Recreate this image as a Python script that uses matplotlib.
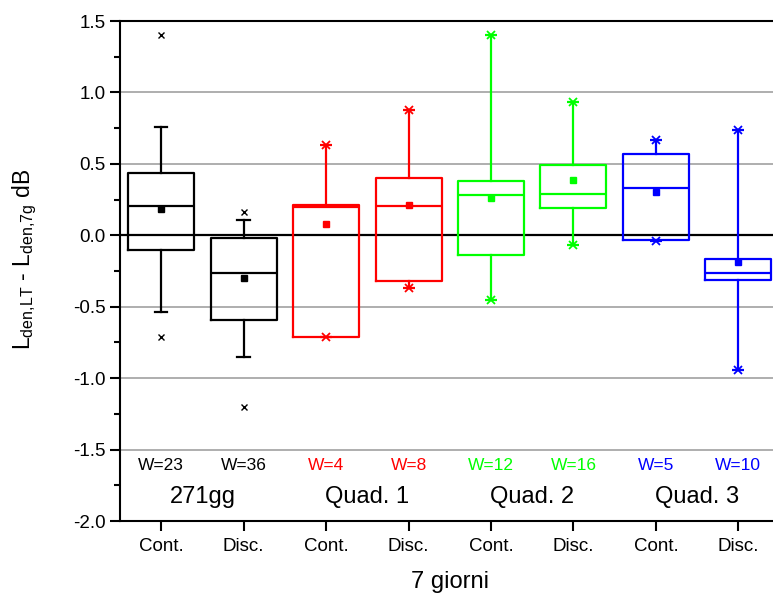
import numpy as np
import matplotlib
matplotlib.use('Agg')
import matplotlib.pyplot as plt
from matplotlib.ticker import MultipleLocator

plt.rcParams['font.family'] = ['Liberation Sans', 'DejaVu Sans']
plt.rcParams['mathtext.fontset'] = 'custom'
plt.rcParams['mathtext.rm'] = 'Liberation Sans'
plt.rcParams['mathtext.it'] = 'Liberation Sans'

# box statistics
tick_labels = ['Cont.', 'Disc.', 'Cont.', 'Disc.', 'Cont.', 'Disc.', 'Cont.', 'Disc.']
groups = ['271gg', 'Quad. 1', 'Quad. 2', 'Quad. 3']
w_labels = ['W=23', 'W=36', 'W=4', 'W=8', 'W=12', 'W=16', 'W=5', 'W=10']
q1 = [-0.10, -0.59, -0.71, -0.32, -0.14, 0.19, -0.03, -0.31]
med = [0.205, -0.265, 0.20, 0.205, 0.28, 0.29, 0.33, -0.265]
q3 = [0.435, -0.02, 0.21, 0.40, 0.38, 0.49, 0.57, -0.165]
whislo = [-0.54, -0.85, -0.71, -0.37, -0.45, -0.07, -0.04, -0.94]
whishi = [0.76, 0.11, 0.63, 0.88, 1.40, 0.93, 0.67, 0.74]
means = [0.185, -0.30, 0.08, 0.21, 0.26, 0.39, 0.30, -0.19]
# 1%/99% markers of the black boxes
fliers = [[1.40, -0.71], [0.16, -1.20], [], [], [], [], [], []]
colors = ['black', 'black', '#ff0000', '#ff0000', '#00ff00', '#00ff00', '#0000ff', '#0000ff']

fig = plt.figure(figsize=(7.73, 5.96), dpi=100)
ax = fig.add_axes([120 / 773, 75 / 596, 659.6 / 773, 500 / 596])

pos = np.arange(1, 9)
for y in [-1.5, -1.0, -0.5, 0.5, 1.0]:
    ax.axhline(y, color='#999999', lw=1.1, zorder=0)
ax.axhline(0, color='black', lw=1.6, zorder=1)

for i in range(8):
    st = dict(med=med[i], q1=q1[i], q3=q3[i], whislo=whislo[i], whishi=whishi[i],
              mean=means[i], fliers=[])
    c = colors[i]
    ax.bxp([st], positions=[pos[i]], widths=0.8, showmeans=True, showfliers=False,
           boxprops=dict(color=c, lw=1.6),
           medianprops=dict(color=c, lw=1.6),
           whiskerprops=dict(color=c, lw=1.6),
           capprops=dict(color=c, lw=1.6),
           meanprops=dict(marker='s', markerfacecolor=c, markeredgecolor=c, markersize=4.5),
           capwidths=0.15 if c == 'black' else 0.0)
    if fliers[i]:
        ax.plot([pos[i]] * len(fliers[i]), fliers[i], 'x', color=c, ms=5, mew=1.0)
    if c != 'black':
        for v in [whislo[i], whishi[i]]:
            ax.plot(pos[i], v, 'x', color=c, ms=6, mew=1.3)
            ax.plot(pos[i], v, '_', color=c, ms=8, mew=1.6)
    ax.text(pos[i], -1.64, w_labels[i], color=c, ha='center', va='baseline', fontsize=12.5)

for g in range(4):
    ax.text(1.5 + 2 * g, -1.875, groups[g], ha='center', va='baseline', fontsize=17)

ax.set_xlim(0.5, 8.5)
ax.set_ylim(-2.0, 1.5)
ax.set_xticks(pos)
ax.set_xticklabels(tick_labels, fontsize=13.5)
ax.yaxis.set_major_locator(MultipleLocator(0.5))
ax.yaxis.set_minor_locator(MultipleLocator(0.25))
ax.set_yticklabels([f'{v:.1f}' for v in ax.get_yticks()], fontsize=13.5)
ax.tick_params(axis='both', which='major', length=7, width=1.5, direction='out')
ax.tick_params(axis='x', which='major', pad=5)
ax.tick_params(axis='y', which='minor', length=4, width=1.5, direction='out')
for s in ['left', 'bottom', 'top', 'right']:
    ax.spines[s].set_linewidth(1.5)

ax.set_xlabel('7 giorni', fontsize=17, labelpad=12)
ax.set_ylabel(r'L$_{\rm den{,}LT}$ - L$_{\rm den{,}7g}$ dB', fontsize=16.5, va='center')
ax.yaxis.set_label_coords(-0.144, 0.524)

fig.savefig('out.png', dpi=100)
